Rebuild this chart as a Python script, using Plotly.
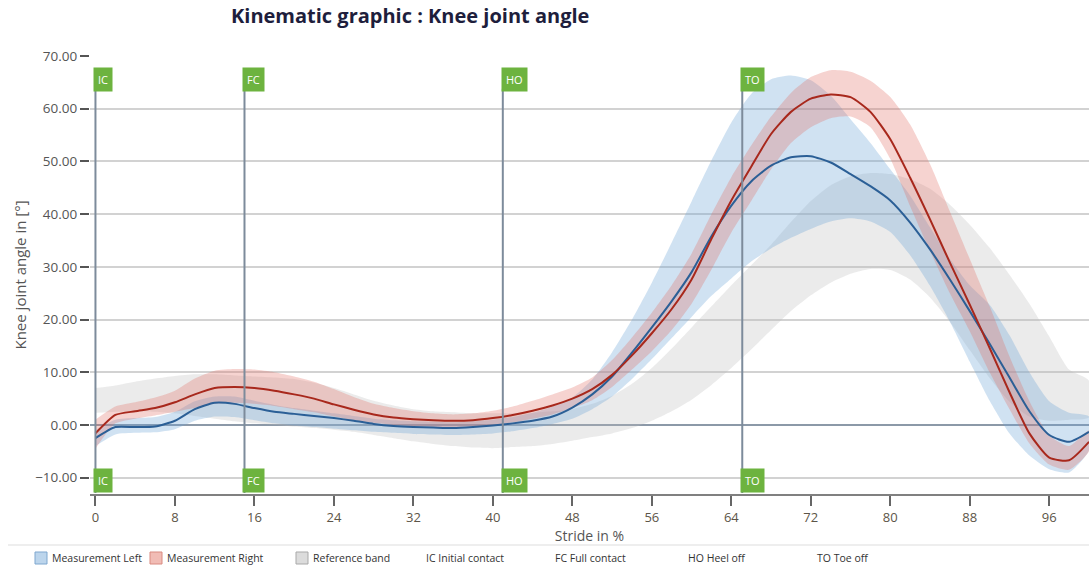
import plotly.graph_objects as go

# Gait cycle sampling (percent of stride)
stride = list(range(0, 101, 2))

# Measurement Right (mean, band upper, band lower) in degrees
right_mean = [-1.6, 1.9, 2.6, 3.2, 4.3, 5.8, 7.0, 7.2, 7.0, 6.5,
              5.8, 5.0, 3.9, 2.9, 2.0, 1.4, 1.1, 0.9, 0.8, 0.9,
              1.3, 1.9, 2.7, 3.7, 5.0, 6.8, 9.5, 13.2, 17.4, 22.0,
              27.6, 35.3, 42.6, 49.0, 55.2, 59.4, 61.9, 62.7, 62.2, 59.4,
              54.2, 46.9, 39.0, 30.8, 22.8, 14.6, 6.2, -1.6, -6.2, -6.7,
              -3.2]
right_upper = [1.0, 3.5, 4.3, 5.2, 6.5, 8.8, 10.3, 10.6, 10.5, 10.0,
               9.2, 8.2, 6.8, 5.3, 4.0, 3.2, 2.6, 2.2, 2.0, 2.2,
               2.7, 3.5, 4.6, 5.8, 7.1, 9.0, 12.3, 16.6, 21.3, 26.5,
               32.5, 40.0, 47.0, 53.0, 58.5, 63.0, 66.0, 67.3, 67.0, 65.3,
               62.2, 57.0, 49.5, 40.5, 31.5, 22.5, 13.0, 4.5, -2.0, -4.0,
               -1.0]
right_lower = [-4.5, 0.3, 1.2, 1.8, 2.5, 3.2, 4.0, 4.2, 4.0, 3.6,
               3.0, 2.4, 1.6, 0.9, 0.4, 0.0, -0.2, -0.4, -0.4, -0.3,
               0.0, 0.5, 1.2, 2.0, 3.2, 4.7, 7.2, 10.5, 14.0, 18.0,
               23.0, 29.5, 36.5, 42.5, 48.5, 53.5, 56.5, 58.2, 58.5, 56.5,
               50.5, 41.5, 33.0, 25.0, 17.8, 10.0, 3.0, -3.5, -7.5, -8.5,
               -5.0]

# Measurement Left (mean, band upper, band lower) in degrees
left_mean = [-2.5, -0.4, -0.4, -0.3, 0.8, 3.0, 4.2, 4.0, 3.2, 2.5,
             2.1, 1.7, 1.3, 0.8, 0.2, -0.2, -0.4, -0.5, -0.6, -0.4,
             -0.1, 0.3, 0.8, 1.6, 3.3, 5.8, 9.2, 13.7, 18.5, 23.5,
             29.0, 35.8, 41.6, 46.2, 49.2, 50.8, 51.0, 49.8, 47.6, 45.3,
             42.6, 38.4, 33.3, 27.6, 21.6, 15.4, 9.0, 2.6, -1.9, -3.2,
             -1.3]
left_upper = [-1.0, 1.0, 1.3, 1.5, 2.5, 4.5, 5.4, 5.4, 4.6, 3.8,
              3.2, 2.7, 2.2, 1.7, 1.2, 0.9, 0.7, 0.6, 0.5, 0.7,
              1.0, 1.5, 2.3, 3.5, 5.2, 8.6, 13.8, 20.0, 27.0, 34.6,
              42.4, 50.2, 57.4, 62.8, 65.6, 66.3, 65.4, 62.5, 58.0, 53.5,
              48.5, 43.5, 37.5, 31.5, 26.5, 22.8, 17.0, 10.0, 4.5, 2.3,
              1.6]
left_lower = [-4.0, -1.8, -1.5, -1.4, -0.8, 0.8, 1.6, 1.5, 0.9, 0.3,
              -0.1, -0.4, -0.7, -1.0, -1.3, -1.5, -1.7, -1.8, -1.9, -1.8,
              -1.6, -1.2, -0.6, 0.2, 1.2, 3.0, 5.4, 8.7, 12.5, 16.5,
              20.5, 24.5, 27.8, 31.0, 33.5, 35.5, 37.2, 38.6, 39.2, 38.6,
              36.6, 32.2, 26.4, 19.6, 12.0, 4.6, -1.6, -5.8, -8.4, -9.0,
              -4.8]

# Reference band (upper, lower) in degrees
ref_upper = [7.0, 7.5, 8.2, 8.8, 9.3, 9.6, 9.6, 9.4, 9.2, 9.0,
             8.7, 8.0, 7.0, 5.8, 4.6, 3.7, 3.0, 2.6, 2.4, 2.2,
             2.2, 2.2, 2.3, 2.6, 3.0, 4.0, 5.5, 7.8, 10.8, 14.5,
             18.5, 22.5, 26.5, 30.3, 34.2, 38.5, 42.5, 45.5, 47.2, 47.8,
             47.6, 46.6, 44.8, 41.8, 38.0, 33.6, 28.5, 23.0, 16.8, 10.5,
             8.4]
ref_lower = [2.3, 2.5, 2.6, 2.5, 2.2, 1.7, 1.2, 0.7, 0.3, 0.0,
             -0.3, -0.6, -0.9, -1.3, -1.9, -2.5, -3.1, -3.6, -4.0, -4.3,
             -4.4, -4.2, -4.0, -3.6, -3.0, -2.3, -1.6, -0.6, 0.8, 2.6,
             4.8, 7.6, 10.8, 14.3, 18.0, 21.6, 24.6, 27.0, 28.7, 29.6,
             29.4, 27.6, 24.2, 19.6, 14.2, 8.9, 4.4, 1.6, 0.8, 1.0,
             1.4]

# Gait events
event_codes = ["IC", "FC", "HO", "TO"]
event_names = ["Initial contact", "Full contact", "Heel off", "Toe off"]
event_pos = [0.0, 15.0, 41.0, 65.1]

x_ticks = list(range(0, 97, 8))
y_ticks = list(range(-10, 71, 10))

FONT = "Open Sans"
BLUE_FILL = "rgba(110,165,215,0.32)"
RED_FILL = "rgba(225,110,100,0.30)"
GREY_FILL = "rgba(190,190,190,0.30)"
FLAG = "#6db33f"


def band(upper, lower, color, name):
    return go.Scatter(
        x=stride + stride[::-1],
        y=upper + lower[::-1],
        fill="toself",
        fillcolor=color,
        line=dict(width=0, shape="spline", smoothing=0.6),
        mode="lines",
        name=name,
        hoverinfo="skip",
        showlegend=False,
    )


fig = go.Figure()
fig.add_trace(band(ref_upper, ref_lower, GREY_FILL, "Reference band"))
fig.add_trace(band(left_upper, left_lower, BLUE_FILL, "Measurement Left"))
fig.add_trace(band(right_upper, right_lower, RED_FILL, "Measurement Right"))
fig.add_trace(go.Scatter(x=stride, y=left_mean, mode="lines",
                         line=dict(color="#2b5f96", width=2, shape="spline", smoothing=0.6),
                         name="Left", showlegend=False))
fig.add_trace(go.Scatter(x=stride, y=right_mean, mode="lines",
                         line=dict(color="#a8281c", width=2, shape="spline", smoothing=0.6),
                         name="Right", showlegend=False))

shapes = []
annotations = []
for code, pos in zip(event_codes, event_pos):
    shapes.append(dict(type="line", xref="x", yref="y", x0=pos, x1=pos,
                       y0=-12.9, y1=63.8, layer="above",
                       line=dict(color="#7d8b9b", width=2)))
    for yv, anchor in ((67.9, "top"), (-12.95, "bottom")):
        annotations.append(dict(
            x=pos, y=yv, xref="x", yref="y", xanchor="left", yanchor=anchor,
            xshift=-2, text=code, showarrow=False, bgcolor=FLAG,
            borderpad=4, font=dict(family=FONT, size=11, color="white")))

# Chart heading
annotations.append(dict(
    x=0.32, y=1.058, xref="paper", yref="paper", xanchor="center", yanchor="bottom",
    text="<b>Kinematic graphic : Knee joint angle</b>", showarrow=False,
    font=dict(family=FONT, size=20, color="#1e1e3c")))

# Legend row below the axis
W, L, T, H = 999.0, 90.0, 56.0, 438.0


def px(x):
    return (x - L) / W


def py(y):
    return (T + H - y) / H


shapes.append(dict(type="line", xref="paper", yref="paper",
                   x0=px(8), x1=px(1089), y0=py(545), y1=py(545),
                   line=dict(color="#dddddd", width=1)))

legend_items = [
    ("Measurement Left", 35, "#bcd5ec", "#7fa7cf"),
    ("Measurement Right", 150, "#f1bcb5", "#d98a80"),
    ("Reference band", 296, "#dcdcdc", "#a9a9a9"),
]
for label, x0, fill, edge in legend_items:
    shapes.append(dict(type="rect", xref="paper", yref="paper",
                       x0=px(x0), x1=px(x0 + 12), y0=py(564), y1=py(552),
                       fillcolor=fill, line=dict(color=edge, width=1)))
    annotations.append(dict(x=px(x0 + 15), y=py(558), xref="paper", yref="paper",
                            xanchor="left", yanchor="middle", text=label, showarrow=False,
                            font=dict(family=FONT, size=10.5, color="#333333")))

event_legend_x = [424, 553, 686, 815]
for code, name, lx in zip(event_codes, event_names, event_legend_x):
    annotations.append(dict(x=px(lx), y=py(558), xref="paper", yref="paper",
                            xanchor="left", yanchor="middle", text=f"{code} {name}",
                            showarrow=False,
                            font=dict(family=FONT, size=10.5, color="#333333")))

fig.update_layout(
    width=1089, height=568,
    margin=dict(l=90, r=0, t=56, b=74),
    paper_bgcolor="white", plot_bgcolor="white",
    font=dict(family=FONT, size=13, color="#555555"),
    showlegend=False,
    shapes=shapes,
    annotations=annotations,
    xaxis=dict(
        range=[-0.55, 100], tickvals=x_ticks, ticktext=[str(v) for v in x_ticks],
        showgrid=False, zeroline=False,
        showline=True, linecolor="#808080", linewidth=2,
        ticks="outside", ticklen=10, tickwidth=1.5, tickcolor="#666666",
        tickfont=dict(family=FONT, size=13, color="#5c5548"),
        title=dict(text="Stride in %", standoff=2,
                   font=dict(family=FONT, size=14, color="#555555")),
    ),
    yaxis=dict(
        range=[-13.1, 70], tickvals=y_ticks, tickformat=".2f",
        showgrid=True, gridcolor="#d2d2d2", gridwidth=1.5,
        zeroline=True, zerolinecolor="#8c99a8", zerolinewidth=2,
        showline=False,
        ticks="outside", ticklen=9, tickwidth=1.5, tickcolor="#555555",
        tickfont=dict(family=FONT, size=13.5, color="#555555"),
        title=dict(text="Knee joint angle in [°]", standoff=4,
                   font=dict(family=FONT, size=15, color="#555555")),
    ),
)

fig.write_html("out.html")
